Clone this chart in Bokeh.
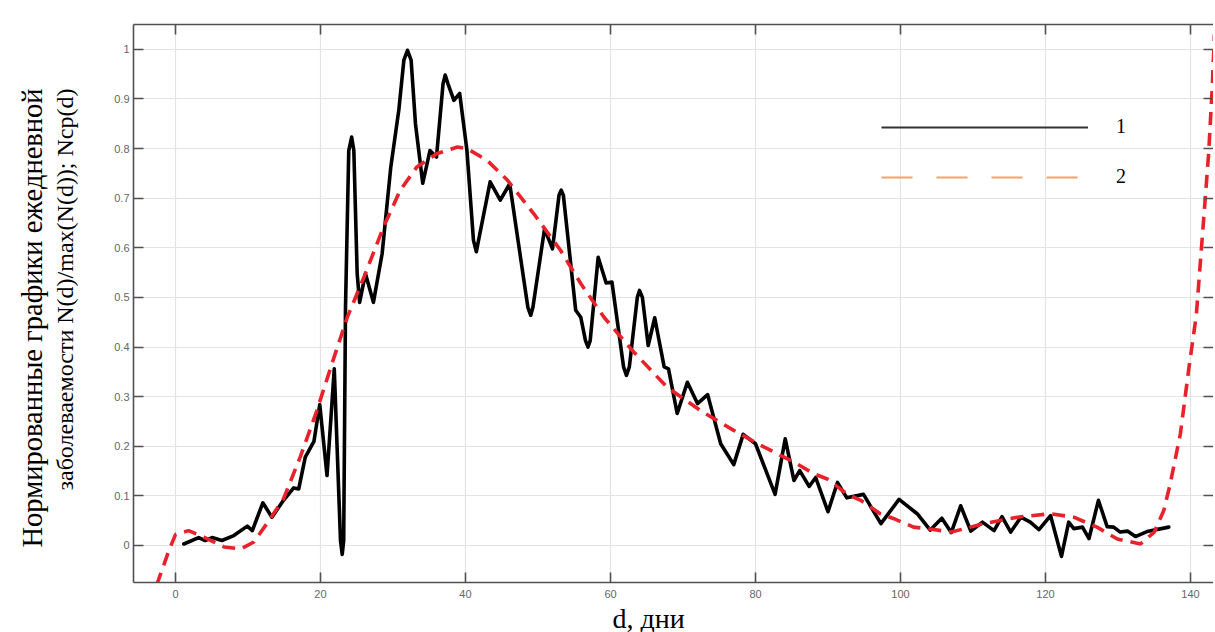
import math
from bokeh.plotting import figure
from bokeh.models import (Range1d, FixedTicker, LinearAxis, Legend, LegendItem, Title)
from bokeh.embed import file_html
from bokeh.resources import INLINE

# ---- data ----
d_obs = [1.15, 3.2, 4.1, 5.06, 6.4, 8.05, 9.9, 10.6, 12.05, 13.3, 14.9, 16.3, 17.0, 17.9,
         19.1, 19.9, 20.9, 21.9, 22.76, 23.0, 23.2, 23.45, 23.9, 24.3, 24.6, 25.06, 25.4,
         26.2, 27.3, 28.5, 29.7, 30.8, 31.5, 32.0, 32.5, 33.1,
         34.1, 35.1, 36.0, 36.9, 37.2, 37.6, 38.4, 39.2, 40.2, 41.1, 41.5, 41.8, 43.4, 44.8,
         46.1, 48.6, 49.0, 49.3, 50.9, 52.0, 52.9, 53.2, 53.5, 55.2, 55.9, 56.55, 56.9, 57.2,
         58.3, 59.4, 60.2, 61.8, 62.2, 62.6, 63.7, 64.0, 64.4, 65.2, 66.1, 67.4, 68.0, 69.2,
         70.6, 72.0, 73.4, 75.2, 77.0, 78.3, 80.0, 82.7, 84.1, 85.3, 86.1, 87.4, 88.3, 90.0,
         91.3, 92.6, 94.9, 97.3, 99.8, 102.3, 104.1, 105.7, 107.0, 108.3, 109.7, 111.3, 112.9,
         114.0, 115.2, 116.6, 117.9, 119.1, 120.7, 122.2, 123.2, 123.9, 125.1, 126.0, 127.3,
         128.5, 129.4, 130.3, 131.3, 132.4, 134.0, 137.0]
n_obs = [0.003, 0.016, 0.010, 0.016, 0.010, 0.020, 0.039, 0.030, 0.086, 0.057, 0.091, 0.116,
         0.114, 0.178, 0.210, 0.284, 0.141, 0.356, 0.010, -0.018, 0.010, 0.480, 0.796, 0.823,
         0.796, 0.548, 0.490, 0.548, 0.490, 0.588,
         0.763, 0.877, 0.978, 0.998, 0.978, 0.850, 0.730, 0.796, 0.783, 0.930, 0.948, 0.930,
         0.897, 0.911, 0.796, 0.615, 0.592, 0.615,
         0.733, 0.696, 0.729, 0.480, 0.464, 0.480, 0.638, 0.598, 0.706, 0.716, 0.706, 0.474,
         0.460, 0.413, 0.400, 0.413, 0.581, 0.529,
         0.531, 0.360, 0.343, 0.360, 0.500, 0.514, 0.500, 0.403, 0.459, 0.360, 0.356, 0.266,
         0.329, 0.286, 0.304, 0.205,
         0.163, 0.224, 0.205, 0.103, 0.215, 0.131, 0.151, 0.119, 0.137, 0.068, 0.127, 0.096,
         0.103, 0.044, 0.093, 0.064, 0.031, 0.055, 0.026, 0.080, 0.029, 0.047, 0.030, 0.058,
         0.027, 0.057, 0.047, 0.032, 0.060, -0.022, 0.047, 0.034, 0.037, 0.014, 0.091, 0.038,
         0.037, 0.027, 0.029, 0.018, 0.028, 0.037]

d_fit = [-2.6, -0.9, 0.0, 1.8, 3.9, 6.7, 9.0, 10.8, 12.6, 14.9, 17.2, 19.5, 21.8, 23.7, 26.0,
         28.7, 31.0, 33.3, 36.1, 38.9, 40.2, 43.0, 45.8, 49.4, 53.1, 55.9, 59.1, 63.2, 67.8,
         72.4, 77.0, 80.7, 85.3, 88.0, 89.9, 92.6, 94.5, 97.2, 99.1, 101.8, 103.7, 107.0,
         111.5, 116.1, 120.7, 123.9, 127.1, 129.9, 133.1, 135.0, 136.3, 137.2, 138.6, 139.8,
         140.8, 141.8, 142.5, 143.0, 143.3]
n_fit = [-0.080, -0.010, 0.022, 0.030, 0.017, -0.003, -0.007, 0.007, 0.044, 0.094, 0.178,
         0.272, 0.376, 0.460, 0.541, 0.642, 0.716, 0.763, 0.790, 0.803, 0.800, 0.776, 0.736,
         0.669, 0.595, 0.528, 0.460, 0.390, 0.319, 0.272, 0.232, 0.202, 0.168, 0.145, 0.134,
         0.104, 0.091, 0.064, 0.054, 0.037, 0.034, 0.027, 0.044, 0.057, 0.064, 0.057, 0.037,
         0.013, 0.003, 0.027, 0.070, 0.124, 0.225, 0.360, 0.464, 0.655, 0.790, 0.924, 1.030]

x_ticks = [0, 20, 40, 60, 80, 100, 120, 140]
y_ticks = [0, 0.1, 0.2, 0.3, 0.4, 0.5, 0.6, 0.7, 0.8, 0.9, 1.0]
y_tick_labels = ["0", "0.1", "0.2", "0.3", "0.4", "0.5", "0.6", "0.7", "0.8", "0.9", "1"]
legend_labels = ["1", "2"]
y_label_lines = ["Нормированные графики ежедневной", "заболеваемости N(d)/max(N(d)); Ncp(d)"]
x_label = "d, дни"

AXIS_COLOR = "#505050"
GRID_COLOR = "#e3e3e3"
TICK_FONT = "Liberation Sans"
SERIF = "Liberation Serif"

p = figure(frame_width=1080, frame_height=558,
           min_border_left=133, min_border_right=0, min_border_top=24, min_border_bottom=50,
           x_range=Range1d(-5.79, 143.17), y_range=Range1d(-0.0746, 1.050),
           output_backend="svg", toolbar_location=None)
p.outline_line_color = None
p.background_fill_color = "white"
p.border_fill_color = "white"

xt = FixedTicker(ticks=x_ticks)
yt = FixedTicker(ticks=y_ticks)
overrides = {v: s for v, s in zip(y_ticks, y_tick_labels)}

for ax in (p.xaxis[0], p.yaxis[0]):
    ax.axis_line_color = AXIS_COLOR
    ax.axis_line_width = 1.6
    ax.major_tick_line_color = AXIS_COLOR
    ax.major_tick_line_width = 1.6
    ax.major_tick_in = 10
    ax.major_tick_out = 0
    ax.minor_tick_line_color = None
    ax.major_label_text_font = TICK_FONT
    ax.major_label_text_font_size = "11px"
    ax.major_label_text_color = "#666666"
p.xaxis[0].ticker = xt
p.yaxis[0].ticker = yt
p.yaxis[0].major_label_overrides = overrides
p.xaxis[0].major_label_standoff = 7
p.yaxis[0].major_label_standoff = 4

top = LinearAxis(ticker=xt, major_label_overrides={v: "" for v in x_ticks},
                 major_label_text_color=None, major_label_standoff=0,
                 axis_line_color=AXIS_COLOR, axis_line_width=1.6,
                 major_tick_line_color=AXIS_COLOR, major_tick_line_width=1.6,
                 major_tick_in=10, major_tick_out=0, minor_tick_line_color=None)
right = LinearAxis(ticker=yt, major_label_overrides={v: "" for v in y_ticks},
                   major_label_text_color=None, major_label_standoff=0,
                   axis_line_color=None,
                   major_tick_line_color=AXIS_COLOR, major_tick_line_width=1.6,
                   major_tick_in=10, major_tick_out=0, minor_tick_line_color=None)
p.add_layout(top, "above")
p.add_layout(right, "right")

# invisible spacer between the tick labels and the axis title lines
spacer = LinearAxis(ticker=yt, major_label_overrides={v: "" for v in y_ticks},
                    major_label_text_color=None, major_label_standoff=0,
                    axis_line_color=None, major_tick_line_color=None,
                    major_tick_in=0, major_tick_out=32, minor_tick_line_color=None)
p.add_layout(spacer, "left")

p.xgrid.ticker = xt
p.ygrid.ticker = yt
p.xgrid.grid_line_color = GRID_COLOR
p.ygrid.grid_line_color = GRID_COLOR
p.xgrid.grid_line_width = 1.2
p.ygrid.grid_line_width = 1.2

p.line(d_obs, n_obs, line_color="black", line_width=3.6, line_join="round", line_cap="round")
p.line(d_fit, n_fit, line_color="#e8222b", line_width=3.6, line_dash="13 8")

# legend (drawn as in the reference, independent from the curve colours)
nan = float("nan")
r1 = p.line(x=[nan], y=[nan], line_color="#333333", line_width=2)
r2 = p.line(x=[nan], y=[nan], line_color="#f2a36a", line_width=2, line_dash="31 24")
legend = Legend(items=[LegendItem(label=legend_labels[0], renderers=[r1]),
                       LegendItem(label=legend_labels[1], renderers=[r2])],
                location=(748, 394), orientation="vertical",
                glyph_width=207, glyph_height=20, label_height=20, spacing=27,
                label_standoff=28, padding=0, margin=0,
                border_line_color=None, background_fill_alpha=0,
                label_text_font=SERIF, label_text_font_size="20px", label_text_color="black")
p.add_layout(legend)

# y label: two lines, right-aligned (top end)
t2 = Title(text=y_label_lines[1], align="right", offset=64, standoff=4,
           text_font=SERIF, text_font_size="24px", text_font_style="normal", text_color="black")
t1 = Title(text=y_label_lines[0], align="right", offset=64, standoff=0,
           text_font=SERIF, text_font_size="28.5px", text_font_style="normal", text_color="black")
p.add_layout(t2, "left")
p.add_layout(t1, "left")

tx = Title(text=x_label, align="left", offset=479, standoff=0,
           text_font=SERIF, text_font_size="28px", text_font_style="normal", text_color="black")
p.add_layout(tx, "below")

open("out.html", "w").write(file_html(p, INLINE))
